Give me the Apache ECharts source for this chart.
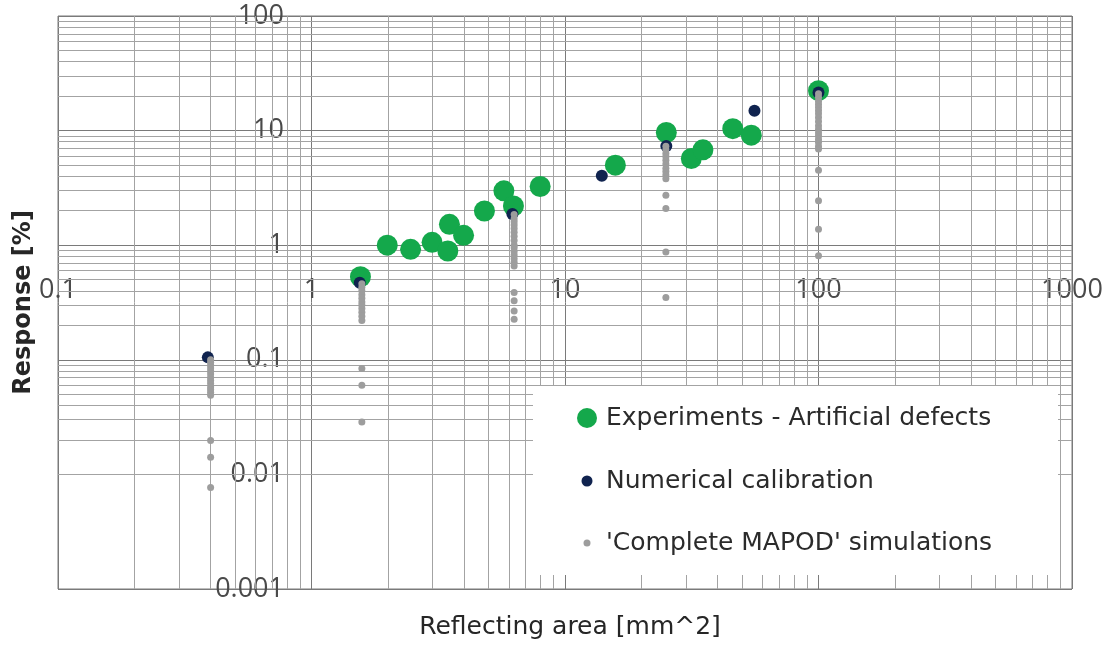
<!DOCTYPE html>
<html>
<head>
<meta charset="utf-8">
<script src="https://cdn.jsdelivr.net/npm/echarts@6/dist/echarts.min.js"></script>
<style>
html,body{margin:0;padding:0;background:#fff;}
#chart{width:1107px;height:647px;}
</style>
</head>
<body>
<div id="chart"></div>
<script>
// ---- Data ----
const xTickLabels = ['0.1', '1', '10', '100', '1000'];
const yTickLabels = ['0.001', '0.01', '0.1', '1', '10', '100'];

const seriesNames = ['Experiments - Artificial defects', 'Numerical calibration', "'Complete MAPOD' simulations"];

// Experiments - Artificial defects
const expX = [1.56, 1.99, 2.46, 2.99, 3.50, 3.45, 3.98, 4.81, 5.74, 6.26, 7.98, 15.8, 25.1, 31.5, 35.0, 45.9, 54.3, 100];
const expY = [0.53, 1.00, 0.92, 1.06, 1.52, 0.89, 1.22, 1.99, 2.98, 2.20, 3.25, 4.99, 9.62, 5.71, 6.79, 10.4, 9.12, 22.3];

// Numerical calibration
const calX = [0.39, 1.55, 6.2, 13.97, 25.1, 55.9, 100];
const calY = [0.105, 0.47, 1.87, 4.03, 7.35, 14.9, 21.5];

// 'Complete MAPOD' simulations
const simX = [
  0.4, 0.4, 0.4, 0.4, 0.4, 0.4, 0.4, 0.4, 0.4, 0.4, 0.4, 0.4, 0.4, 0.4, 0.4, 0.4,
  1.58, 1.58, 1.58, 1.58, 1.58, 1.58, 1.58, 1.58, 1.58, 1.58, 1.58, 1.58, 1.58, 1.58,
  6.3, 6.3, 6.3, 6.3, 6.3, 6.3, 6.3, 6.3, 6.3, 6.3, 6.3, 6.3, 6.3, 6.3, 6.3, 6.3, 6.3, 6.3, 6.3,
  25, 25, 25, 25, 25, 25, 25, 25, 25, 25, 25, 25, 25, 25,
  100, 100, 100, 100, 100, 100, 100, 100, 100, 100, 100, 100, 100, 100, 100, 100, 100, 100, 100, 100, 100
];
const simY = [
  0.1, 0.095, 0.09, 0.085, 0.08, 0.075, 0.07, 0.066, 0.062, 0.058, 0.055, 0.052, 0.049, 0.0198, 0.0141, 0.0077,
  0.46, 0.43, 0.40, 0.37, 0.345, 0.32, 0.30, 0.28, 0.26, 0.24, 0.22, 0.084, 0.060, 0.0287,
  1.85, 1.7, 1.6, 1.5, 1.4, 1.3, 1.2, 1.1, 1.0, 0.95, 0.88, 0.82, 0.76, 0.71, 0.66, 0.387, 0.327, 0.267, 0.226,
  7.3, 6.8, 6.3, 5.9, 5.5, 5.1, 4.7, 4.4, 4.1, 3.8, 2.73, 2.09, 0.874, 0.35,
  21, 19.5, 18, 17, 16, 15, 14, 13, 12, 11, 10.3, 9.6, 9.0, 8.4, 7.9, 7.3, 6.9, 4.5, 2.44, 1.38, 0.81
];

// ---- Build ----
const zip = (a, b) => a.map((v, i) => [v, b[i]]);
const minorMult = [2, 3, 4, 5, 6, 7, 8, 9];
const xDecades = [0.1, 1, 10, 100];
const yDecades = [0.001, 0.01, 0.1, 1, 10];
const minorX = [], minorY = [];
xDecades.forEach(d => minorMult.forEach(m => minorX.push({ xAxis: d * m })));
yDecades.forEach(d => minorMult.forEach(m => minorY.push({ yAxis: d * m })));

const tickFont = "'Open Sans', 'Noto Sans', sans-serif";
const textFont = "'DejaVu Sans', sans-serif";
const colGreen = '#14a84b', colNavy = '#10234f', colGray = '#9d9d9d';

const chart = echarts.init(document.getElementById('chart'), null, { renderer: 'canvas' });
const legendText = { fontSize: 25, color: '#2b2b2b', fontFamily: textFont, lineHeight: 30 };
const legendBase = { orient: 'vertical', padding: 0, selectedMode: false, z: 200 };
chart.setOption({
  animation: false,
  backgroundColor: '#ffffff',
  grid: { left: 58, top: 16, right: 35, bottom: 58, outerBoundsMode: 'none', show: true, borderColor: '#7a7a7a', borderWidth: 1 },
  xAxis: {
    type: 'log', logBase: 10, min: 0.1, max: 1000,
    name: 'Reflecting area [mm^2]', nameLocation: 'middle', nameGap: 26, nameMoveOverlap: false,
    nameTextStyle: { fontSize: 25, color: '#262626', fontFamily: textFont, padding: [0, 0, 0, 10] },
    axisLine: { show: false }, axisTick: { show: false },
    axisLabel: {
      margin: -312, fontSize: 27, color: '#4a4a4a', fontFamily: tickFont,
      showMinLabel: true, showMaxLabel: true,
      formatter: v => xTickLabels[Math.round(Math.log10(v)) + 1]
    },
    splitLine: { show: true, lineStyle: { color: '#7a7a7a', width: 1 } }
  },
  yAxis: {
    type: 'log', logBase: 10, min: 0.001, max: 100,
    name: 'Response [%]', nameLocation: 'middle', nameGap: 22, nameMoveOverlap: false,
    nameTextStyle: { fontSize: 24, fontWeight: 'bold', color: '#262626', fontFamily: textFont },
    axisLine: { show: false }, axisTick: { show: false },
    axisLabel: {
      margin: -226, fontSize: 27, color: '#4a4a4a', fontFamily: tickFont,
      padding: [4, 0, 0, 0],
      showMinLabel: true, showMaxLabel: true,
      formatter: v => yTickLabels[Math.round(Math.log10(v)) + 3]
    },
    splitLine: { show: true, lineStyle: { color: '#7a7a7a', width: 1 } }
  },
  graphic: [{
    type: 'rect', z: 100, silent: true,
    shape: { x: 533, y: 386, width: 525, height: 189 },
    style: { fill: '#ffffff' }
  }],
  legend: [
    Object.assign({}, legendBase, { data: [seriesNames[0]], left: 577, top: 403, itemWidth: 20, itemHeight: 20,
      textStyle: Object.assign({}, legendText, { padding: [0, 0, 0, 4] }) }),
    Object.assign({}, legendBase, { data: [seriesNames[1]], left: 581.5, top: 466, itemWidth: 11, itemHeight: 11,
      textStyle: Object.assign({}, legendText, { padding: [0, 0, 0, 8.5] }) }),
    Object.assign({}, legendBase, { data: [seriesNames[2]], left: 583.5, top: 528, itemWidth: 7, itemHeight: 7,
      textStyle: Object.assign({}, legendText, { padding: [0, 0, 0, 10.5] }) })
  ],
  series: [
    {
      name: 'minor-grid', type: 'scatter', data: [], silent: true, z: 1,
      markLine: {
        silent: true, symbol: 'none', z: 1, animation: false,
        label: { show: false },
        lineStyle: { type: 'solid', color: '#a3a3a3', width: 1 },
        emphasis: { disabled: true },
        data: minorX.concat(minorY)
      }
    },
    {
      name: seriesNames[0], type: 'scatter', z: 3, symbol: 'circle', symbolSize: 21,
      itemStyle: { color: colGreen, opacity: 1 },
      data: zip(expX, expY)
    },
    {
      name: seriesNames[1], type: 'scatter', z: 4, symbol: 'circle', symbolSize: 12,
      itemStyle: { color: colNavy, opacity: 1 },
      data: zip(calX, calY)
    },
    {
      name: seriesNames[2], type: 'scatter', z: 5, symbol: 'circle', symbolSize: 7,
      itemStyle: { color: colGray, opacity: 1 },
      data: zip(simX, simY)
    }
  ]
});
</script>
</body>
</html>
